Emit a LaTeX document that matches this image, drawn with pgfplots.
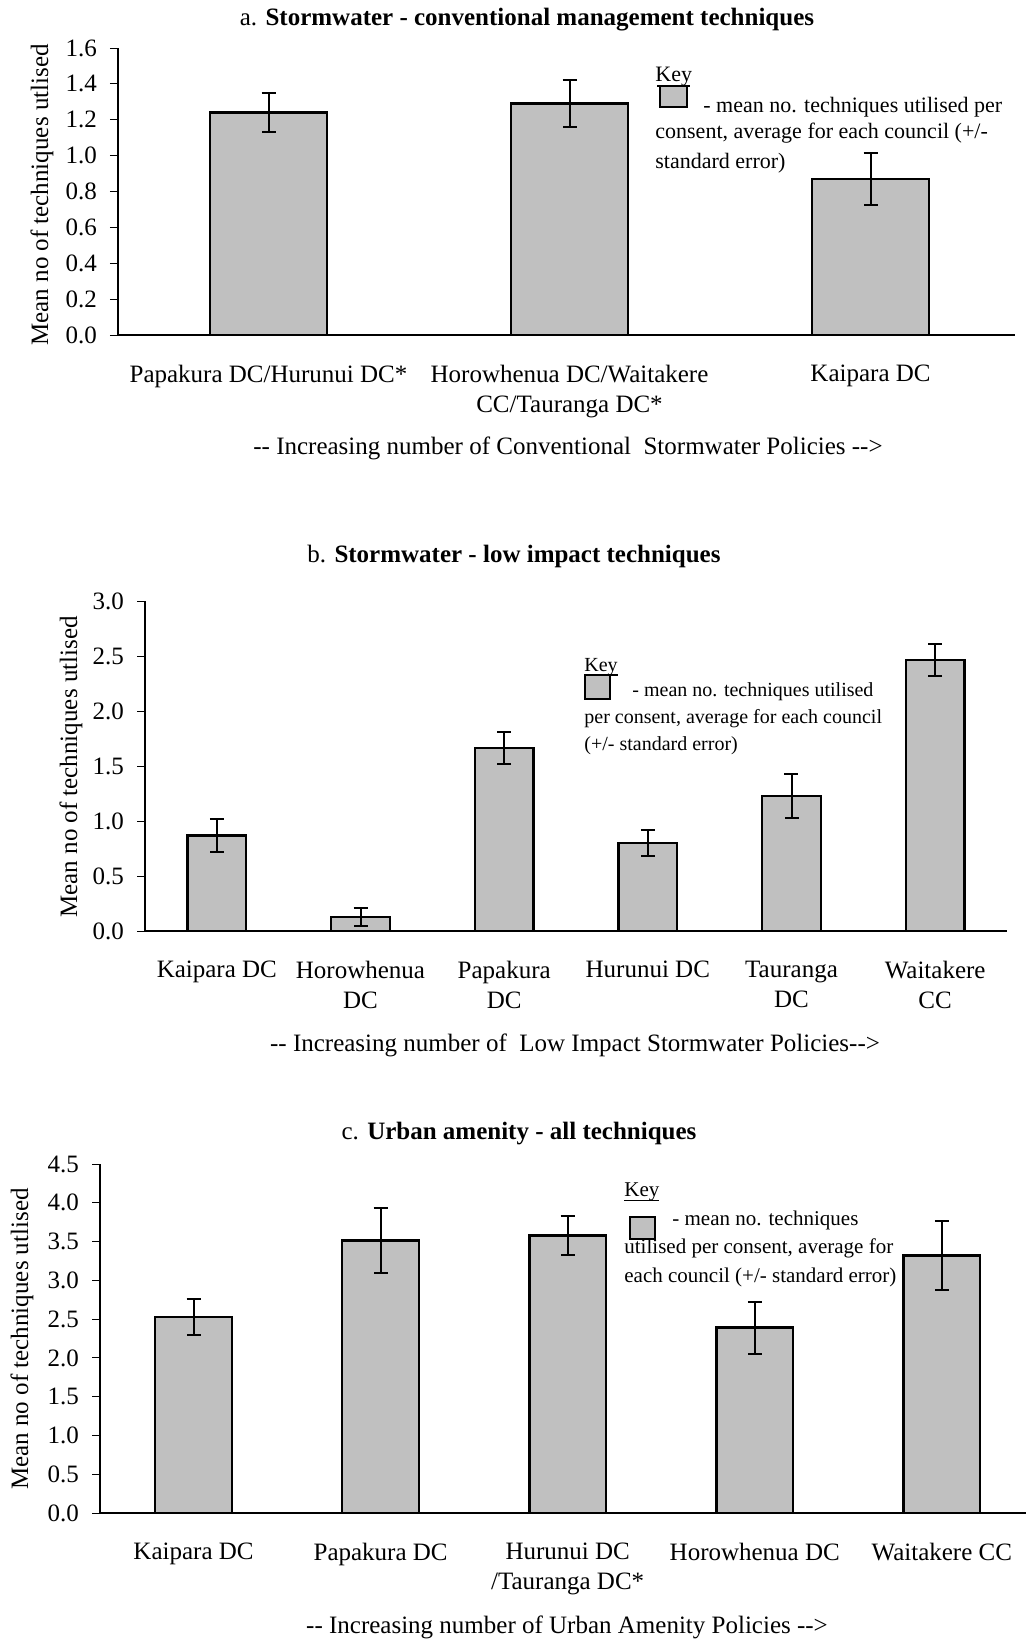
\documentclass[border=0pt]{standalone}
\usepackage{pgfplots}
\pgfplotsset{compat=1.18}
\usepackage{fontspec}
\setmainfont{Liberation Serif}
\definecolor{bargray}{HTML}{C0C0C0}

\pgfplotsset{
  panel/.style={
    scale only axis,
    anchor=south west,
    axis x line*=bottom,
    axis y line*=left,
    ymin=0,
    ybar,
    clip=false,
    x tick style={draw=none},
    y tick style={black, line width=0.5pt},
    tick align=outside,
    major tick length=4pt,
    axis line style={line width=0.6pt, black},
    tick label style={font=\fontsize{12.5}{15}\selectfont},
    /pgf/number format/assume math mode=true,
    yticklabel style={xshift=-3pt, /pgf/number format/fixed, /pgf/number format/fixed zerofill,
      /pgf/number format/precision=1},
    xticklabel style={align=center, anchor=north, inner sep=0pt, yshift=-11pt},
  },
  barstyle/.style={fill=bargray, draw=black, line width=1.2pt,
    error bars/.cd, y dir=both, y explicit,
    error bar style={line width=1pt, black},
    error mark options={rotate=90, line width=1pt, mark size=3.5pt, black}},
}

\begin{document}
\begin{tikzpicture}
\useasboundingbox (0,0) rectangle (513pt,-821.5pt);

% a. conventional
\begin{axis}[panel, at={(59pt,-167.5pt)}, width=448.5pt, height=143.5pt,
  xmin=-0.5, xmax=2.48, ymax=1.6, bar width=0.39,
  ytick={0,0.2,0.4,0.6,0.8,1.0,1.2,1.4,1.6},
  xtick={0,1,2},
  xticklabels={Papakura DC/Hurunui DC*, {Horowhenua DC/Waitakere\\CC/Tauranga DC*}, Kaipara DC}]
\addplot[barstyle] coordinates {(0,1.24) +- (0,0.107) (1,1.29) +- (0,0.13) (2,0.87) +- (0,0.146)};
\end{axis}

% b. low impact
\begin{axis}[panel, at={(72.5pt,-465.5pt)}, width=431pt, height=165pt,
  xmin=-0.5, xmax=5.5, ymax=3.0, bar width=0.41,
  ytick={0,0.5,1.0,1.5,2.0,2.5,3.0},
  xtick={0,1,2,3,4,5},
  xticklabels={Kaipara DC, Horowhenua\\DC, Papakura\\DC, Hurunui DC, Tauranga\\DC, Waitakere\\CC}]
\addplot[barstyle] coordinates {(0,0.87) +- (0,0.15) (1,0.13) +- (0,0.08) (2,1.665) +- (0,0.147)
  (3,0.80) +- (0,0.12) (4,1.23) +- (0,0.2) (5,2.465) +- (0,0.145)};
\end{axis}

% c. urban amenity
\begin{axis}[panel, at={(50pt,-756.5pt)}, width=463pt, height=174.5pt,
  xmin=-0.5, xmax=4.45, ymax=4.5, bar width=0.41,
  ytick={0,0.5,1.0,1.5,2.0,2.5,3.0,3.5,4.0,4.5},
  xtick={0,1,2,3,4},
  xticklabels={Kaipara DC, Papakura DC, {Hurunui DC\\/Tauranga DC*}, Horowhenua DC, Waitakere CC}]
\addplot[barstyle] coordinates {(0,2.53) +- (0,0.235) (1,3.515) +- (0,0.42) (2,3.58) +- (0,0.25)
  (3,2.39) +- (0,0.337) (4,3.32) +- (0,0.45)};
\end{axis}

% titles, axis labels
\begin{scope}[every node/.style={font=\fontsize{12.5}{15}\selectfont, inner sep=0pt}]
\node at (263.5pt,-10pt) {a. \textbf{Stormwater - conventional management techniques}};
\node at (257pt,-278pt) {b. \textbf{Stormwater - low impact techniques}};
\node at (259.5pt,-567pt) {c. \textbf{Urban amenity - all techniques}};
\node[rotate=90] at (21pt,-97.5pt) {Mean no of techniques utlised};
\node[rotate=90] at (35.5pt,-383.5pt) {Mean no of techniques utlised};
\node[rotate=90] at (11pt,-669.5pt) {Mean no of techniques utlised};
\node at (284pt,-224pt) {-{}- Increasing number of Conventional\ \ Stormwater Policies -{}->};
\node at (287.5pt,-522.5pt) {-{}- Increasing number of\ \ Low Impact Stormwater Policies-{}->};
\node at (283.5pt,-813.5pt) {-{}- Increasing number of Urban Amenity Policies -{}->};
\end{scope}

% keys
\begin{scope}[every node/.style={anchor=west, inner sep=0pt}]
\node[font=\fontsize{11}{13}\selectfont] at (327.5pt,-38.5pt) {Key};
\draw[fill=bargray, line width=1pt] (330pt,-43pt) rectangle (343.5pt,-53.5pt);
\draw[line width=1.2pt] (328.5pt,-43pt) -- (345pt,-43pt);
\node[font=\fontsize{11}{13}\selectfont] at (351.5pt,-53.5pt) {- mean no. techniques utilised per};
\node[font=\fontsize{11}{13}\selectfont] at (327.5pt,-66.5pt) {consent, average for each council (+/-};
\node[font=\fontsize{11}{13}\selectfont] at (327.5pt,-81.5pt) {standard error)};

\node[font=\fontsize{10}{12}\selectfont] at (292pt,-333.5pt) {Key};
\draw[fill=bargray, line width=1pt] (292.5pt,-337.5pt) rectangle (305pt,-349.5pt);
\draw[line width=1.2pt] (292pt,-337.5pt) -- (309pt,-337.5pt);
\node[font=\fontsize{10}{12}\selectfont] at (316pt,-346pt) {- mean no. techniques utilised};
\node[font=\fontsize{10}{12}\selectfont] at (292pt,-359.5pt) {per consent, average for each council};
\node[font=\fontsize{10}{12}\selectfont] at (292pt,-373pt) {(+/- standard error)};

\node[font=\fontsize{10.5}{12.5}\selectfont] at (312pt,-596pt) {Key};
\draw[line width=0.5pt] (312pt,-600pt) -- (329.5pt,-600pt);
\draw[fill=bargray, line width=1pt] (315pt,-608.5pt) rectangle (327.5pt,-619.5pt);
\node[font=\fontsize{10.5}{12.5}\selectfont] at (336pt,-610pt) {- mean no. techniques};
\node[font=\fontsize{10.5}{12.5}\selectfont] at (312pt,-624pt) {utilised per consent, average for};
\node[font=\fontsize{10.5}{12.5}\selectfont] at (312pt,-638.5pt) {each council (+/- standard error)};
\end{scope}
\end{tikzpicture}
\end{document}
